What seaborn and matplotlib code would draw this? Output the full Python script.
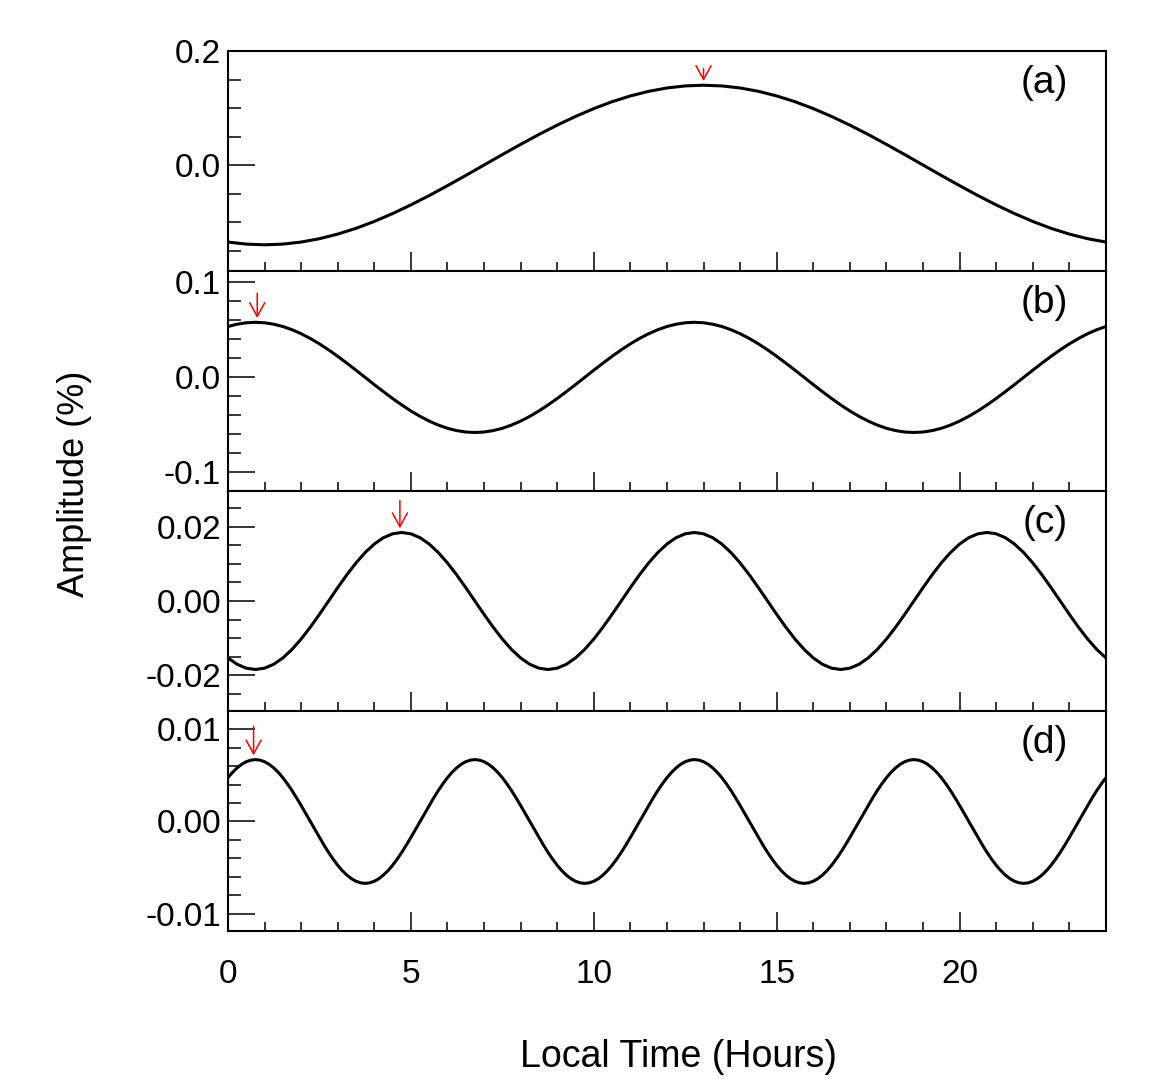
import numpy as np, pandas as pd, matplotlib
matplotlib.use('Agg')
import matplotlib.pyplot as plt
import seaborn as sns
from matplotlib.ticker import MultipleLocator, FormatStrFormatter

sns.set_style('ticks')
plt.rcParams['font.family'] = ['Liberation Sans', 'DejaVu Sans']
plt.rcParams['axes.unicode_minus'] = False
for k in ['text.color', 'axes.labelcolor', 'xtick.color', 'ytick.color', 'axes.edgecolor']:
    plt.rcParams[k] = 'black'

### data ###
hours_half = [0, 0.5, 1, 1.5, 2, 2.5, 3, 3.5, 4, 4.5, 5, 5.5, 6, 6.5, 7, 7.5, 8, 8.5, 9, 9.5,
              10, 10.5, 11, 11.5, 12, 12.5, 13, 13.5, 14, 14.5, 15, 15.5, 16, 16.5, 17, 17.5,
              18, 18.5, 19, 19.5, 20, 20.5, 21, 21.5, 22, 22.5, 23, 23.5, 24]
hours_quarter = [0, 0.25, 0.5, 0.75, 1, 1.25, 1.5, 1.75, 2, 2.25, 2.5, 2.75, 3, 3.25, 3.5, 3.75,
                 4, 4.25, 4.5, 4.75, 5, 5.25, 5.5, 5.75, 6, 6.25, 6.5, 6.75, 7, 7.25, 7.5, 7.75,
                 8, 8.25, 8.5, 8.75, 9, 9.25, 9.5, 9.75, 10, 10.25, 10.5, 10.75, 11, 11.25, 11.5, 11.75,
                 12, 12.25, 12.5, 12.75, 13, 13.25, 13.5, 13.75, 14, 14.25, 14.5, 14.75, 15, 15.25, 15.5, 15.75,
                 16, 16.25, 16.5, 16.75, 17, 17.25, 17.5, 17.75, 18, 18.25, 18.5, 18.75, 19, 19.25, 19.5, 19.75,
                 20, 20.25, 20.5, 20.75, 21, 21.25, 21.5, 21.75, 22, 22.25, 22.5, 22.75, 23, 23.25, 23.5, 23.75, 24]
hours_eighth = [0, 0.125, 0.25, 0.375, 0.5, 0.625, 0.75, 0.875,
                1, 1.125, 1.25, 1.375, 1.5, 1.625, 1.75, 1.875,
                2, 2.125, 2.25, 2.375, 2.5, 2.625, 2.75, 2.875,
                3, 3.125, 3.25, 3.375, 3.5, 3.625, 3.75, 3.875,
                4, 4.125, 4.25, 4.375, 4.5, 4.625, 4.75, 4.875,
                5, 5.125, 5.25, 5.375, 5.5, 5.625, 5.75, 5.875,
                6, 6.125, 6.25, 6.375, 6.5, 6.625, 6.75, 6.875,
                7, 7.125, 7.25, 7.375, 7.5, 7.625, 7.75, 7.875,
                8, 8.125, 8.25, 8.375, 8.5, 8.625, 8.75, 8.875,
                9, 9.125, 9.25, 9.375, 9.5, 9.625, 9.75, 9.875,
                10, 10.125, 10.25, 10.375, 10.5, 10.625, 10.75, 10.875,
                11, 11.125, 11.25, 11.375, 11.5, 11.625, 11.75, 11.875,
                12, 12.125, 12.25, 12.375, 12.5, 12.625, 12.75, 12.875,
                13, 13.125, 13.25, 13.375, 13.5, 13.625, 13.75, 13.875,
                14, 14.125, 14.25, 14.375, 14.5, 14.625, 14.75, 14.875,
                15, 15.125, 15.25, 15.375, 15.5, 15.625, 15.75, 15.875,
                16, 16.125, 16.25, 16.375, 16.5, 16.625, 16.75, 16.875,
                17, 17.125, 17.25, 17.375, 17.5, 17.625, 17.75, 17.875,
                18, 18.125, 18.25, 18.375, 18.5, 18.625, 18.75, 18.875,
                19, 19.125, 19.25, 19.375, 19.5, 19.625, 19.75, 19.875,
                20, 20.125, 20.25, 20.375, 20.5, 20.625, 20.75, 20.875,
                21, 21.125, 21.25, 21.375, 21.5, 21.625, 21.75, 21.875,
                22, 22.125, 22.25, 22.375, 22.5, 22.625, 22.75, 22.875,
                23, 23.125, 23.25, 23.375, 23.5, 23.625, 23.75, 23.875,
                24]

# (a) diurnal, on the 0.5 h grid
amp_a = [-0.1352, -0.1388, -0.1400, -0.1388, -0.1352, -0.1293, -0.1212, -0.1111, -0.0990, -0.0852,
         -0.0700, -0.0536, -0.0362, -0.0183, 0.0000, 0.0183, 0.0362, 0.0536, 0.0700, 0.0852,
         0.0990, 0.1111, 0.1212, 0.1293, 0.1352, 0.1388, 0.1400, 0.1388, 0.1352, 0.1293,
         0.1212, 0.1111, 0.0990, 0.0852, 0.0700, 0.0536, 0.0362, 0.0183, 0.0000, -0.0183,
         -0.0362, -0.0536, -0.0700, -0.0852, -0.0990, -0.1111, -0.1212, -0.1293, -0.1352]

# (b) semi-diurnal, on the 0.25 h grid
amp_b = [0.0536, 0.0560, 0.0575, 0.0580, 0.0575, 0.0560, 0.0536, 0.0502, 0.0460, 0.0410, 0.0353, 0.0290,
         0.0222, 0.0150, 0.0076, 0.0000, -0.0076, -0.0150, -0.0222, -0.0290, -0.0353, -0.0410, -0.0460, -0.0502,
         -0.0536, -0.0560, -0.0575, -0.0580, -0.0575, -0.0560, -0.0536, -0.0502, -0.0460, -0.0410, -0.0353, -0.0290,
         -0.0222, -0.0150, -0.0076, 0.0000, 0.0076, 0.0150, 0.0222, 0.0290, 0.0353, 0.0410, 0.0460, 0.0502,
         0.0536, 0.0560, 0.0575, 0.0580, 0.0575, 0.0560, 0.0536, 0.0502, 0.0460, 0.0410, 0.0353, 0.0290,
         0.0222, 0.0150, 0.0076, 0.0000, -0.0076, -0.0150, -0.0222, -0.0290, -0.0353, -0.0410, -0.0460, -0.0502,
         -0.0536, -0.0560, -0.0575, -0.0580, -0.0575, -0.0560, -0.0536, -0.0502, -0.0460, -0.0410, -0.0353, -0.0290,
         -0.0222, -0.0150, -0.0076, 0.0000, 0.0076, 0.0150, 0.0222, 0.0290, 0.0353, 0.0410, 0.0460, 0.0502,
         0.0536]

# (c) ter-diurnal, on the 0.25 h grid
amp_c = [-0.01538, -0.01709, -0.01814, -0.01850, -0.01814, -0.01709, -0.01538, -0.01308,
         -0.01028, -0.00708, -0.00361, 0.00000, 0.00361, 0.00708, 0.01028, 0.01308,
         0.01538, 0.01709, 0.01814, 0.01850, 0.01814, 0.01709, 0.01538, 0.01308,
         0.01028, 0.00708, 0.00361, 0.00000, -0.00361, -0.00708, -0.01028, -0.01308,
         -0.01538, -0.01709, -0.01814, -0.01850, -0.01814, -0.01709, -0.01538, -0.01308,
         -0.01028, -0.00708, -0.00361, 0.00000, 0.00361, 0.00708, 0.01028, 0.01308,
         0.01538, 0.01709, 0.01814, 0.01850, 0.01814, 0.01709, 0.01538, 0.01308,
         0.01028, 0.00708, 0.00361, 0.00000, -0.00361, -0.00708, -0.01028, -0.01308,
         -0.01538, -0.01709, -0.01814, -0.01850, -0.01814, -0.01709, -0.01538, -0.01308,
         -0.01028, -0.00708, -0.00361, 0.00000, 0.00361, 0.00708, 0.01028, 0.01308,
         0.01538, 0.01709, 0.01814, 0.01850, 0.01814, 0.01709, 0.01538, 0.01308,
         0.01028, 0.00708, 0.00361, 0.00000, -0.00361, -0.00708, -0.01028, -0.01308,
         -0.01538]

# (d) quarter-diurnal, on the 0.125 h grid
amp_d = [0.00474, 0.00532, 0.00580, 0.00619, 0.00647, 0.00664, 0.00670, 0.00664,
         0.00647, 0.00619, 0.00580, 0.00532, 0.00474, 0.00408, 0.00335, 0.00256,
         0.00173, 0.00087, 0.00000, -0.00087, -0.00173, -0.00256, -0.00335, -0.00408,
         -0.00474, -0.00532, -0.00580, -0.00619, -0.00647, -0.00664, -0.00670, -0.00664,
         -0.00647, -0.00619, -0.00580, -0.00532, -0.00474, -0.00408, -0.00335, -0.00256,
         -0.00173, -0.00087, 0.00000, 0.00087, 0.00173, 0.00256, 0.00335, 0.00408,
         0.00474, 0.00532, 0.00580, 0.00619, 0.00647, 0.00664, 0.00670, 0.00664,
         0.00647, 0.00619, 0.00580, 0.00532, 0.00474, 0.00408, 0.00335, 0.00256,
         0.00173, 0.00087, 0.00000, -0.00087, -0.00173, -0.00256, -0.00335, -0.00408,
         -0.00474, -0.00532, -0.00580, -0.00619, -0.00647, -0.00664, -0.00670, -0.00664,
         -0.00647, -0.00619, -0.00580, -0.00532, -0.00474, -0.00408, -0.00335, -0.00256,
         -0.00173, -0.00087, 0.00000, 0.00087, 0.00173, 0.00256, 0.00335, 0.00408,
         0.00474, 0.00532, 0.00580, 0.00619, 0.00647, 0.00664, 0.00670, 0.00664,
         0.00647, 0.00619, 0.00580, 0.00532, 0.00474, 0.00408, 0.00335, 0.00256,
         0.00173, 0.00087, 0.00000, -0.00087, -0.00173, -0.00256, -0.00335, -0.00408,
         -0.00474, -0.00532, -0.00580, -0.00619, -0.00647, -0.00664, -0.00670, -0.00664,
         -0.00647, -0.00619, -0.00580, -0.00532, -0.00474, -0.00408, -0.00335, -0.00256,
         -0.00173, -0.00087, 0.00000, 0.00087, 0.00173, 0.00256, 0.00335, 0.00408,
         0.00474, 0.00532, 0.00580, 0.00619, 0.00647, 0.00664, 0.00670, 0.00664,
         0.00647, 0.00619, 0.00580, 0.00532, 0.00474, 0.00408, 0.00335, 0.00256,
         0.00173, 0.00087, 0.00000, -0.00087, -0.00173, -0.00256, -0.00335, -0.00408,
         -0.00474, -0.00532, -0.00580, -0.00619, -0.00647, -0.00664, -0.00670, -0.00664,
         -0.00647, -0.00619, -0.00580, -0.00532, -0.00474, -0.00408, -0.00335, -0.00256,
         -0.00173, -0.00087, 0.00000, 0.00087, 0.00173, 0.00256, 0.00335, 0.00408,
         0.00474]

panel_labels = ['(a)', '(b)', '(c)', '(d)']
peak_hours = [13.0, 0.8, 4.7, 0.7]        # red arrows
peak_values = [0.140, 0.058, 0.0185, 0.0067]
y_major = [[0.0, 0.2], [-0.1, 0.0, 0.1], [-0.02, 0.0, 0.02], [-0.01, 0.0, 0.01]]

### plot settings ###
series = [(hours_half, amp_a), (hours_quarter, amp_b), (hours_quarter, amp_c), (hours_eighth, amp_d)]
ylims = [(-0.186, 0.2), (-0.1196, 0.112), (-0.0297, 0.0297), (-0.01185, 0.01196)]
y_minor = [0.05, 0.02, 0.005, 0.002]
y_fmt = ['%.1f', '%.1f', '%.2f', '%.2f']
arrow_len = [12, 21, 23, 24]

fig, axes = plt.subplots(4, 1, figsize=(11.56, 10.79), dpi=100, sharex=True)
fig.subplots_adjust(left=0.1972, right=0.9567, top=0.9527, bottom=0.1372, hspace=0)

for i, ax in enumerate(axes):
    x, y = series[i]
    df = pd.DataFrame({'hour': x, 'amp': y})
    sns.lineplot(data=df, x='hour', y='amp', ax=ax, color='black', lw=2.2)
    ax.set_xlim(0, 24)
    ax.set_ylim(*ylims[i])
    ax.set_xlabel('')
    ax.set_ylabel('')
    ax.set_yticks(y_major[i])
    ax.yaxis.set_minor_locator(MultipleLocator(y_minor[i]))
    ax.yaxis.set_major_formatter(FormatStrFormatter(y_fmt[i]))
    ax.xaxis.set_major_locator(MultipleLocator(5))
    ax.xaxis.set_minor_locator(MultipleLocator(1))
    ax.tick_params(axis='y', which='major', direction='in', length=19.5, width=1.1,
                   labelsize=24, pad=5, right=False, left=True, colors='black')
    ax.tick_params(axis='y', which='minor', direction='in', length=9.5, width=1.1, right=False,
                   colors='black')
    ax.tick_params(axis='x', which='major', direction='in', length=13.5, width=1.1,
                   labelsize=24, pad=20, top=False, colors='black')
    ax.tick_params(axis='x', which='minor', direction='in', length=6.5, width=1.1, top=False,
                   colors='black')
    for sp in ax.spines.values():
        sp.set_visible(True)
        sp.set_linewidth(1.5)
        sp.set_color('black')
    ax.text(0.957, 0.855, panel_labels[i], transform=ax.transAxes, ha='right', va='center',
            fontsize=28, color='black')
    ax.annotate('', xy=(peak_hours[i], peak_values[i]), xytext=(0, arrow_len[i]),
                textcoords='offset points',
                arrowprops=dict(arrowstyle='->,head_length=0.55,head_width=0.3', color='red',
                                lw=1.1, shrinkA=0, shrinkB=3, mutation_scale=18))

fig.text(75 / 1156, 1 - 484 / 1079, 'Amplitude (%)', rotation=90, ha='center', va='center',
         fontsize=26, color='black')
fig.text(678 / 1156, 1 - 1057 / 1079, 'Local Time (Hours)', ha='center', va='center',
         fontsize=27, color='black')

plt.savefig('out.png', dpi=100)
